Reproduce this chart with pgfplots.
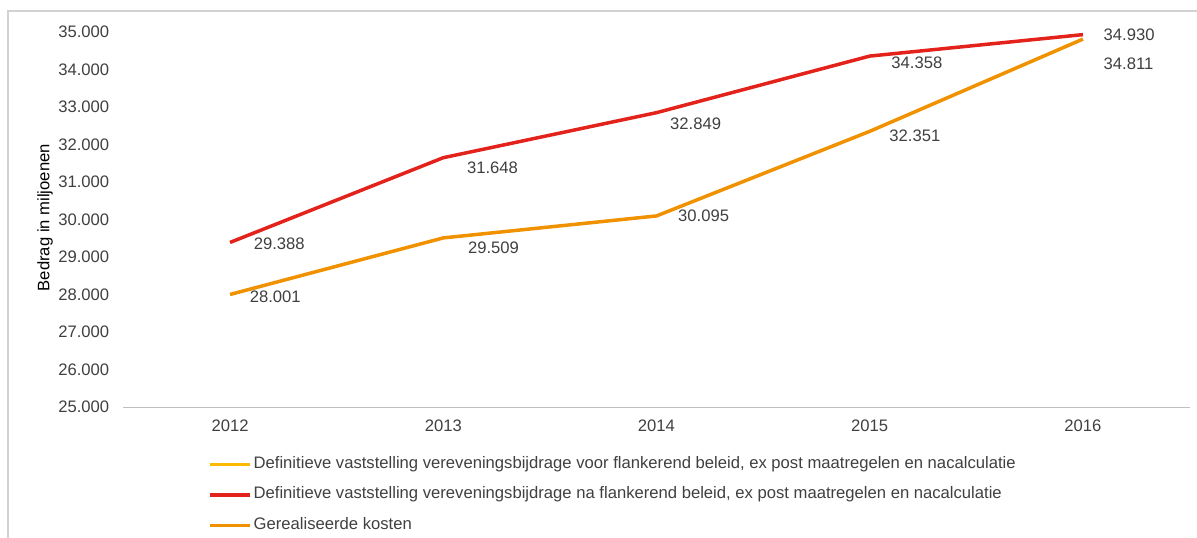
\documentclass[border=0pt]{standalone}
\usepackage{fontspec}
\setmainfont{Liberation Sans}
\usepackage{pgfplots}
\pgfplotsset{compat=1.18}
\usepackage{pgfplotstable}

\definecolor{cred}{RGB}{227,35,27}
\definecolor{corange}{RGB}{240,145,0}
\definecolor{cyellow}{RGB}{251,186,0}
\definecolor{textgray}{RGB}{64,64,64}
\definecolor{axisgray}{RGB}{191,191,191}
\definecolor{framegray}{RGB}{210,210,210}

\pgfplotstableread{
x y dx dy
0 29388 22 -1
1 31648 22 -10
2 32849 12 -11
3 34358 20 -7
4 34930 19 0
}\redtab
\pgfplotstableread{
x y dx dy
0 28001 18 -2
1 29509 23 -10
2 30095 20 0
3 32351 18 -4
4 34811 19 -25
}\orangetab

\newcommand{\chfont}{\fontsize{16.7}{19}\selectfont}

\begin{document}
\chfont
\begin{tikzpicture}
\useasboundingbox (0,0) rectangle (1197bp,-538bp);
\draw[framegray, line width=1.2bp] (8bp,-538bp) -- (8bp,-11bp) -- (1197bp,-11bp);
\begin{axis}[
  at={(123.4bp,-407bp)}, anchor=south west,
  scale only axis, width=1066.2bp, height=375bp,
  xmin=-0.5, xmax=4.5, ymin=25000, ymax=35000,
  xtick={0,1,2,3,4}, xticklabels={2012,2013,2014,2015,2016},
  ytick={25000,26000,...,35000},
  scaled y ticks=false,
  /pgf/number format/.cd, 1000 sep={.}, assume math mode=true, /pgfplots/.cd,
  axis x line*=bottom, axis y line*=left,
  y axis line style={draw=none},
  x axis line style={draw=axisgray, line width=1bp, -},
  major tick length=0pt, tick style={draw=none},
  ticklabel style={font=\chfont, text=textgray},
  yticklabel style={inner sep=0pt, xshift=-14bp},
  xticklabel style={inner sep=0pt, yshift=-13bp},
  ylabel={Bedrag in miljoenen},
  ylabel style={font=\chfont, text=textgray},
  every axis y label/.style={at={(-0.0735,0.505)}, rotate=90, anchor=center},
  clip=false,
  legend style={at={(0.0765,-0.122)}, anchor=north west, draw=none, fill=none,
    font=\chfont, text=textgray, row sep=11.5bp,
    nodes={inner sep=2bp, text height=11.5bp, text depth=3.5bp}},
  legend cell align=left,
  legend image code/.code={\draw[#1, line width=3.5bp] (-2bp,0bp) -- (38bp,0bp);},
  every node near coord/.append style={anchor=west, inner sep=0pt, font=\chfont, text=textgray},
]
\addlegendimage{cyellow}
\addlegendentry{Definitieve vaststelling vereveningsbijdrage voor flankerend beleid, ex post maatregelen en nacalculatie}
\addplot[cred, line width=3.5bp, no markers,
  nodes near coords, point meta=explicit,
  visualization depends on={\thisrow{dx}\as\dx},
  visualization depends on={\thisrow{dy}\as\dy},
  nodes near coords style={xshift=\dx bp, yshift=\dy bp}]
  table[x=x, y=y, meta=y]{\redtab};
\addlegendentry{Definitieve vaststelling vereveningsbijdrage na flankerend beleid, ex post maatregelen en nacalculatie}
\addplot[corange, line width=3.5bp, no markers,
  nodes near coords, point meta=explicit,
  visualization depends on={\thisrow{dx}\as\dx},
  visualization depends on={\thisrow{dy}\as\dy},
  nodes near coords style={xshift=\dx bp, yshift=\dy bp}]
  table[x=x, y=y, meta=y]{\orangetab};
\addlegendentry{Gerealiseerde kosten}
\end{axis}
\end{tikzpicture}
\end{document}
